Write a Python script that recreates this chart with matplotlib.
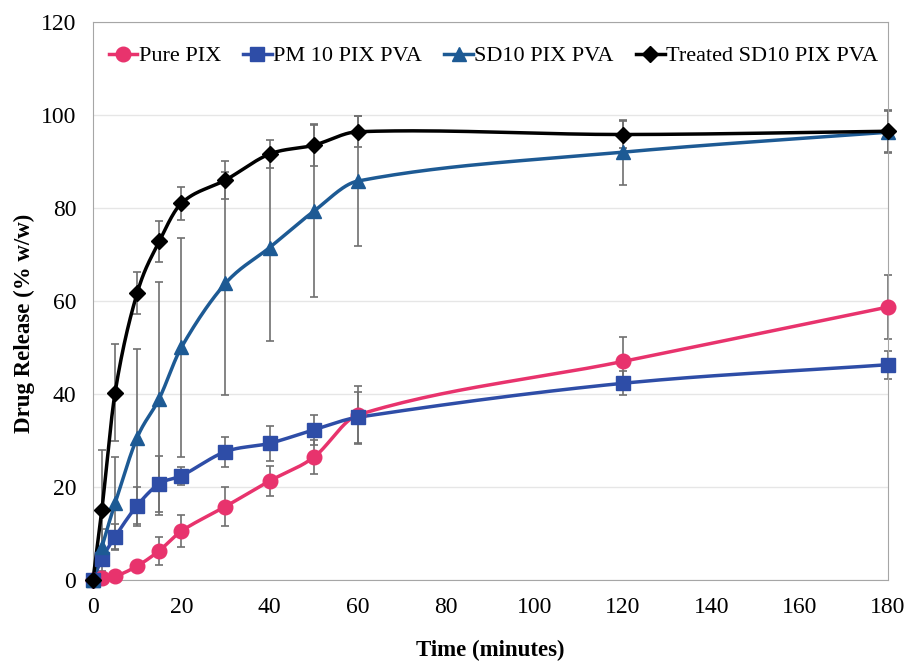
import numpy as np
import matplotlib.pyplot as plt

plt.rcParams['font.family'] = ['Liberation Serif', 'DejaVu Serif']

time_min = [0, 2, 5, 10, 15, 20, 30, 40, 50, 60, 120, 180]

pure_pix = [0, 0.5, 0.8, 3.0, 6.3, 10.5, 15.8, 21.3, 26.4, 35.5, 47.0, 58.7]
pure_pix_err = [0, 0.3, 0.5, 1.0, 3.0, 3.5, 4.2, 3.2, 3.7, 6.2, 5.3, 6.8]

pm10 = [0, 4.5, 9.3, 16.0, 20.7, 22.4, 27.6, 29.4, 32.3, 35.0, 42.3, 46.3]
pm10_err = [0, 1.5, 2.7, 4.0, 6.0, 2.0, 3.2, 3.8, 3.2, 5.5, 2.6, 3.0]

sd10 = [0, 7.0, 16.5, 30.6, 39.0, 50.0, 63.8, 71.5, 79.3, 85.8, 92.0, 96.3]
sd10_err = [0, 4.0, 10.0, 19.0, 25.0, 23.5, 24.0, 20.0, 18.5, 14.0, 7.0, 4.5]

treated = [0, 15.0, 40.3, 61.7, 72.8, 81.0, 86.0, 91.6, 93.5, 96.4, 95.8, 96.5]
treated_err = [0, 13.0, 10.5, 4.5, 4.5, 3.5, 4.0, 3.0, 4.5, 3.3, 3.0, 4.5]

labels = ['Pure PIX', 'PM 10 PIX PVA', 'SD10 PIX PVA', 'Treated SD10 PIX PVA']
colors = ['#E8336D', '#2E4DA7', '#1D5A94', '#000000']
markers = ['o', 's', '^', 'D']
msizes = [10.5, 10, 10, 8]


def smooth(x, y, n=30):
    # cubic Hermite curve through the points, tangents from neighbours
    x = np.asarray(x, float)
    y = np.asarray(y, float)
    px = np.concatenate([[2 * x[0] - x[1]], x, [2 * x[-1] - x[-2]]])
    py = np.concatenate([[2 * y[0] - y[1]], y, [2 * y[-1] - y[-2]]])
    t = np.linspace(0, 1, n)
    h00 = 2 * t**3 - 3 * t**2 + 1
    h10 = t**3 - 2 * t**2 + t
    h01 = -2 * t**3 + 3 * t**2
    h11 = t**3 - t**2
    xs, ys = [], []
    for i in range(1, len(px) - 2):
        seg = px[i + 1] - px[i]
        # tangents scaled to segment length so uneven spacing stays tidy
        s1 = seg / (px[i + 1] - px[i - 1])
        s2 = seg / (px[i + 2] - px[i])
        mx1, my1 = (px[i + 1] - px[i - 1]) * s1, (py[i + 1] - py[i - 1]) * s1
        mx2, my2 = (px[i + 2] - px[i]) * s2, (py[i + 2] - py[i]) * s2
        xs.append(h00 * px[i] + h10 * mx1 + h01 * px[i + 1] + h11 * mx2)
        ys.append(h00 * py[i] + h10 * my1 + h01 * py[i + 1] + h11 * my2)
    return np.concatenate(xs), np.concatenate(ys)


fig = plt.figure(figsize=(9.09, 6.62), dpi=100)
ax = fig.add_axes([0.1023, 0.1239, 0.8746, 0.8429])

series = [(pure_pix, pure_pix_err), (pm10, pm10_err), (sd10, sd10_err), (treated, treated_err)]
for (vals, errs), lab, col, mk, ms in zip(series, labels, colors, markers, msizes):
    ax.errorbar(time_min, vals, yerr=errs, fmt='none', ecolor='#707070',
                elinewidth=1.2, capsize=3, capthick=1.2, zorder=2, clip_on=False)
    sx, sy = smooth(time_min, vals)
    ax.plot(sx, sy, color=col, lw=2.5, zorder=3, clip_on=False)
    ax.plot(time_min, vals, ls='none', marker=mk, ms=ms, color=col, zorder=4,
            clip_on=False)
    ax.plot([], [], color=col, lw=2.5, marker=mk, ms=ms, label=lab)

ax.set_xlim(0, 180)
ax.set_ylim(0, 120)
ax.set_xticks(range(0, 181, 20))
ax.set_yticks(range(0, 121, 20))
ax.tick_params(length=0, labelsize=17, pad=12)
ax.yaxis.grid(True, color='#E6E6E6', lw=1)
ax.set_axisbelow(True)
for sp in ax.spines.values():
    sp.set_color('#A6A6A6')

ax.set_xlabel('Time (minutes)', fontsize=16.5, fontweight='bold', labelpad=16)
ax.set_ylabel('Drug Release (% w/w)', fontsize=16.5, fontweight='bold', labelpad=12)
ax.yaxis.set_label_coords(-0.073, 0.46)

ax.legend(loc='upper left', ncol=4, frameon=False, fontsize=16,
          handlelength=1.3, handletextpad=0.05, columnspacing=1.0,
          borderaxespad=0.3, bbox_to_anchor=(0.0, 0.985))

fig.savefig('out.png', dpi=100)
